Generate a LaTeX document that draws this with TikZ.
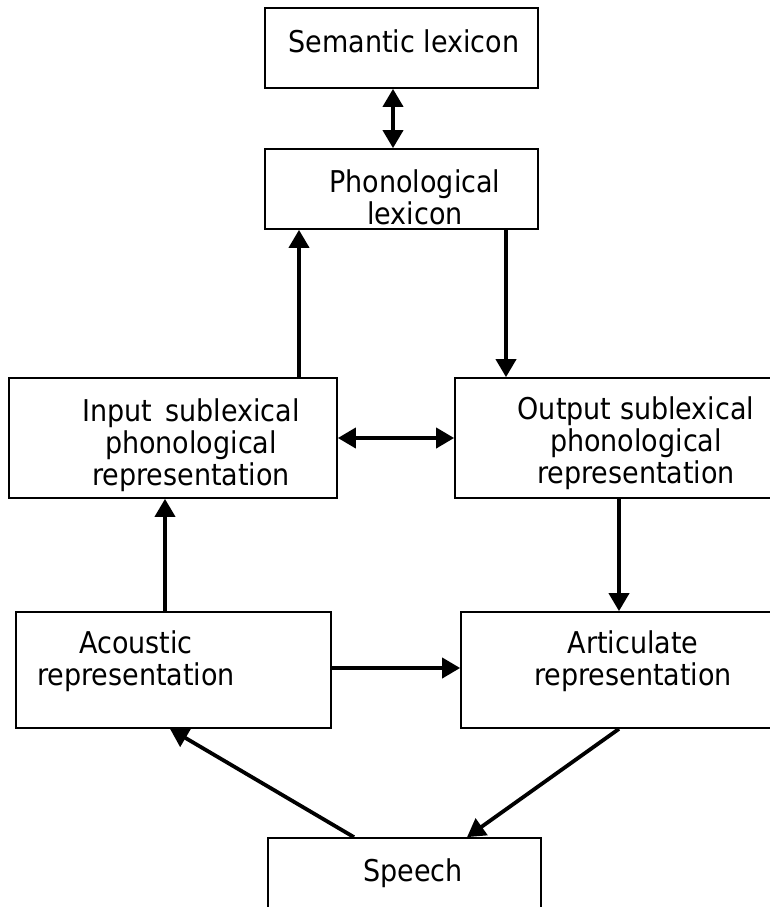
\documentclass[tikz,border=0pt]{standalone}
\usepackage{fontspec}
\setmainfont{DejaVu Sans Condensed}
\usetikzlibrary{arrows.meta}
\newcommand\tstrut{\rule{0pt}{26pt}}
\tikzset{
  box/.style={draw, line width=1.7pt, rectangle, inner sep=0pt},
  txt/.style={anchor=north, inner sep=0pt, align=center, font=\fontsize{30}{32}\selectfont},
  tip/.style={Triangle[length=18pt,width=20pt]},
  arr/.style={line width=3.8pt, -{Triangle[length=18pt,width=20pt]}},
  dbl/.style={line width=3.8pt, {Triangle[length=18pt,width=20pt]}-{Triangle[length=18pt,width=20pt]}}
}
\begin{document}
\begin{tikzpicture}[x=1pt,y=-1pt]
\useasboundingbox (0,0) rectangle (770,907);
\clip (0,0) rectangle (770,907);
% boxes
\node[box, minimum width=273pt, minimum height=80pt]  (sem)    at (401.5,48)  {};
\node[box, minimum width=273pt, minimum height=80pt]  (phon)   at (401.5,189) {};
\node[box, minimum width=328pt, minimum height=120pt] (input)  at (173,438)   {};
\node[box, minimum width=330pt, minimum height=120pt] (output) at (620,438)   {};
\node[box, minimum width=315pt, minimum height=116pt] (acou)   at (173.5,670) {};
\node[box, minimum width=324pt, minimum height=116pt] (artic)  at (623,670)   {};
\node[box, minimum width=273pt, minimum height=92pt]  (speech) at (404.5,884) {};
% texts
\node[txt] (semT)    at (404,26)  {\tstrut Semantic lexicon};
\node[txt] (phonT)   at (415,166) {\tstrut Phonological\\lexicon};
\node[txt] (inputT)  at (191,395) {\tstrut Input\hspace{0.45em}sublexical\\phonological\\representation};
\node[txt] (outputT) at (636,393) {\tstrut Output sublexical\\phonological\\representation};
\node[txt] (acouT)   at (136,627) {\tstrut Acoustic\\representation};
\node[txt] (articT)  at (633,627) {\tstrut Articulate\\representation};
\node[txt] (speechT) at (413,855) {\tstrut Speech};
% connectors
\draw[dbl] ([xshift=-8.5pt]sem.south) -- ([xshift=-8.5pt]phon.north);
\draw[arr] ([xshift=126pt]input.north) -- ([xshift=-102.5pt]phon.south);
\draw[arr] ([xshift=104.5pt]phon.south) -- ([xshift=-114pt]output.north);
\draw[dbl] (input.east) -- (output.west);
\draw[arr] ([xshift=-8.5pt]acou.north) -- ([xshift=-8pt]input.south);
\draw[arr] ([xshift=-1pt]output.south) -- ([xshift=-4pt]artic.north);
\draw[arr] ([yshift=2pt]acou.east) -- ([yshift=2pt]artic.west);
\draw[arr] ([xshift=-50.5pt]speech.north) -- ([xshift=-3.5pt]acou.south);
\draw[arr] ([xshift=-4pt]artic.south) -- ([xshift=62.5pt]speech.north);
\end{tikzpicture}
\end{document}
